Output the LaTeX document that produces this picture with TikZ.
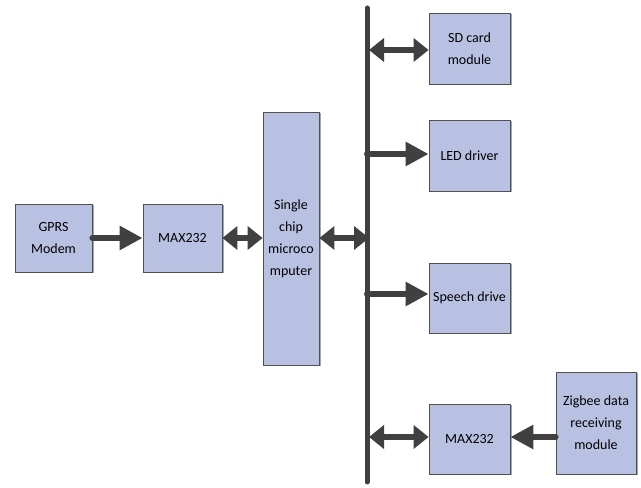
\documentclass[tikz,border=0pt]{standalone}
\usepackage{fontspec}
\setmainfont{Carlito}
\usetikzlibrary{arrows.meta,shadows}
\definecolor{boxfill}{RGB}{185,193,227}
\definecolor{boxline}{RGB}{80,80,80}
\definecolor{linkgray}{RGB}{64,64,64}
\begin{document}
\begin{tikzpicture}[x=1pt,y=1pt,
  box/.style={draw=boxline, line width=0.8pt, fill=boxfill, align=center,
    inner sep=1pt, font=\fontsize{14}{22}\selectfont,
    drop shadow={shadow xshift=1.5pt, shadow yshift=-1.5pt, opacity=0.35, fill=black}},
  oneway/.style={draw=linkgray, line width=6pt, line cap=round,
    -{Triangle[length=23pt,width=23pt]}},
  twoway/.style={draw=linkgray, line width=5.5pt,
    {Triangle[length=15pt,width=23pt]}-{Triangle[length=15pt,width=23pt]}},
  bus/.style={draw=linkgray, line width=5pt, line cap=round}]
  \useasboundingbox (0,0) rectangle (641,488);

  % left-hand chain
  \node[box, minimum width=77pt, minimum height=68pt] (gprs) at (53.5,250) {GPRS\\Modem};
  \node[box, minimum width=79pt, minimum height=68pt] (maxa) at (182.5,250) {MAX232};
  \node[box, minimum width=56pt, minimum height=253pt] (mcu) at (291,249.5) {Single\\chip\\microco\\mputer};

  % bus line
  \coordinate (bustop) at (367,480);
  \coordinate (busbot) at (367,6);
  \draw[bus] (bustop) -- (busbot);

  % peripherals on the bus
  \node[box, minimum width=81pt, minimum height=71pt] (sd) at (469.5,439.5) {SD card\\module};
  \node[box, minimum width=81pt, minimum height=71pt] (led) at (469.5,332.5) {LED driver};
  \node[box, minimum width=81pt, minimum height=70pt] (speech) at (469.5,190) {Speech drive};
  \node[box, minimum width=81pt, minimum height=70pt] (maxb) at (469.5,49) {MAX232};
  \node[box, minimum width=80pt, minimum height=102pt] (zig) at (596,65) {Zigbee data\\receiving\\module};

  % taps on the bus
  \coordinate (tmcu) at (369,250);
  \coordinate (tsd) at (369,438);
  \coordinate (tled) at (367,334);
  \coordinate (tspeech) at (367,194);
  \coordinate (tmaxb) at (369,51);

  % links
  \draw[oneway] (gprs.east) -- (maxa.west);
  \draw[twoway] (maxa.east) -- (mcu.west |- maxa.east);
  \draw[twoway] (mcu.east |- tmcu) -- (tmcu);
  \draw[twoway] (tsd) -- (sd.west |- tsd);
  \draw[oneway] (tled) -- (led.west |- tled);
  \draw[oneway] (tspeech) -- (speech.west |- tspeech);
  \draw[twoway] (tmaxb) -- (maxb.west |- tmaxb);
  \draw[oneway] (zig.west |- tmaxb) -- (maxb.east |- tmaxb);
\end{tikzpicture}
\end{document}
